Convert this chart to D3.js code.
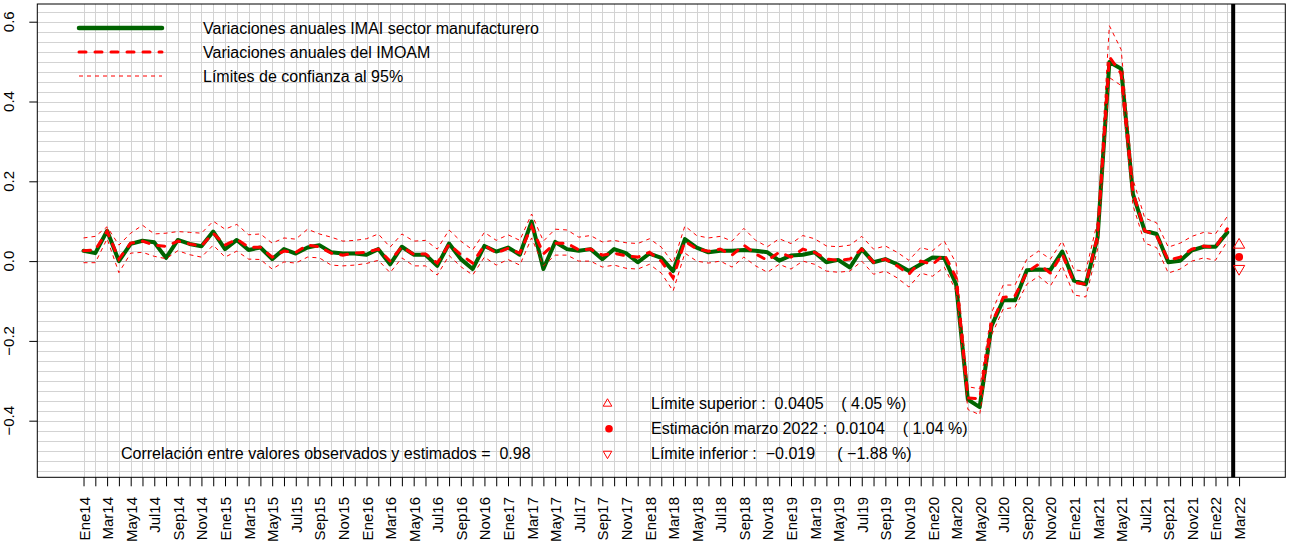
<!DOCTYPE html>
<html><head><meta charset="utf-8">
<script src="https://cdn.jsdelivr.net/npm/d3@7"></script>
<style>
body{margin:0;background:#fff;}
text{font-family:"Liberation Sans",Arial,sans-serif;fill:#000;}
</style></head>
<body>
<svg id="c" width="1291" height="547"></svg>
<script>
// ---- data ----
const tickLabels = ["Ene14","Mar14","May14","Jul14","Sep14","Nov14",
 "Ene15","Mar15","May15","Jul15","Sep15","Nov15",
 "Ene16","Mar16","May16","Jul16","Sep16","Nov16",
 "Ene17","Mar17","May17","Jul17","Sep17","Nov17",
 "Ene18","Mar18","May18","Jul18","Sep18","Nov18",
 "Ene19","Mar19","May19","Jul19","Sep19","Nov19",
 "Ene20","Mar20","May20","Jul20","Sep20","Nov20",
 "Ene21","Mar21","May21","Jul21","Sep21","Nov21",
 "Ene22","Mar22"];
const yTicks = [-0.4,-0.2,0.0,0.2,0.4,0.6];

// observed annual variation IMAI (Ene14 .. Feb22)
const observed = [
 0.026,0.020,0.076,0.000,0.043,0.051,0.047,0.008,0.053,0.043,
 0.037,0.074,0.030,0.053,0.028,0.034,0.005,0.030,0.019,0.034,
 0.040,0.022,0.019,0.019,0.016,0.030,-0.008,0.036,0.016,0.016,
 -0.012,0.044,0.005,-0.020,0.038,0.024,0.034,0.016,0.099,-0.020,
 0.048,0.030,0.026,0.030,0.005,0.030,0.020,-0.003,0.019,0.008,
 -0.025,0.055,0.034,0.022,0.026,0.026,0.028,0.026,0.022,0.001,
 0.014,0.016,0.022,-0.003,0.003,-0.016,0.030,-0.003,0.005,-0.008,
 -0.025,-0.008,0.009,0.008,-0.058,-0.347,-0.366,-0.163,-0.098,-0.098,
 -0.023,-0.021,-0.022,0.024,-0.049,-0.058,0.059,0.499,0.482,0.168,
 0.076,0.068,-0.003,0.001,0.027,0.036,0.036,0.072];

// estimated IMOAM
const estimated = [
 0.026,0.028,0.075,0.005,0.045,0.050,0.040,0.037,0.050,0.043,
 0.038,0.070,0.040,0.055,0.035,0.035,0.010,0.025,0.022,0.040,
 0.036,0.020,0.015,0.020,0.022,0.030,0.000,0.036,0.017,0.018,
 -0.005,0.042,0.016,-0.005,0.040,0.020,0.032,0.020,0.087,0.018,
 0.045,0.045,0.028,0.030,0.015,0.020,0.013,0.010,0.022,0.000,
 -0.042,0.050,0.030,0.025,0.030,0.015,0.040,0.018,0.002,0.022,
 0.010,0.030,0.022,0.005,0.002,0.005,0.030,-0.003,0.005,-0.012,
 -0.033,0.000,-0.008,0.017,-0.041,-0.343,-0.345,-0.158,-0.091,-0.087,
 -0.028,-0.008,-0.030,0.018,-0.054,-0.058,0.064,0.512,0.470,0.172,
 0.076,0.064,0.002,0.010,0.030,0.038,0.034,0.081];

const upper = [
 0.058,0.062,0.086,0.040,0.070,0.090,0.068,0.070,0.074,0.072,
 0.070,0.100,0.080,0.092,0.066,0.068,0.045,0.058,0.055,0.080,
 0.068,0.060,0.050,0.052,0.056,0.068,0.035,0.068,0.050,0.052,
 0.030,0.078,0.050,0.028,0.072,0.052,0.066,0.052,0.118,0.050,
 0.080,0.078,0.060,0.064,0.048,0.052,0.046,0.044,0.056,0.035,
 -0.005,0.088,0.064,0.058,0.062,0.050,0.082,0.052,0.036,0.056,
 0.044,0.064,0.056,0.038,0.036,0.040,0.062,0.030,0.038,0.022,
 0.002,0.034,0.026,0.050,-0.005,-0.315,-0.320,-0.130,-0.060,-0.060,
 0.005,0.025,0.005,0.050,-0.022,-0.025,0.100,0.590,0.530,0.205,
 0.108,0.096,0.035,0.045,0.062,0.072,0.068,0.112];

const lower = [
 -0.004,-0.004,0.056,-0.029,0.020,0.022,0.012,0.006,0.026,0.016,
 0.010,0.040,0.010,0.025,0.005,0.004,-0.020,-0.002,-0.005,0.010,
 0.008,-0.010,-0.012,-0.010,-0.006,0.002,-0.029,0.008,-0.012,-0.012,
 -0.035,0.014,-0.014,-0.035,0.010,-0.010,0.004,-0.010,0.058,-0.012,
 0.015,0.015,0.000,0.000,-0.015,-0.010,-0.018,-0.020,-0.008,-0.030,
 -0.075,0.020,0.000,-0.005,0.000,-0.015,0.010,-0.012,-0.028,-0.008,
 -0.020,0.000,-0.008,-0.025,-0.028,-0.025,0.000,-0.033,-0.025,-0.042,
 -0.065,-0.030,-0.038,-0.015,-0.075,-0.372,-0.385,-0.186,-0.120,-0.116,
 -0.058,-0.038,-0.062,-0.012,-0.085,-0.090,0.030,0.460,0.440,0.140,
 0.045,0.034,-0.030,-0.020,0.000,0.008,0.002,0.050];

// forecast for Mar22
const forecastIndex = 98;
const forecastValues = {sup:0.0405, est:0.0104, inf:-0.019};
const forecastTexts = [
 "Límite superior :  0.0405    ( 4.05 %)",
 "Estimación marzo 2022 :  0.0104    ( 1.04 %)",
 "Límite inferior :  −0.019     ( −1.88 %)"];
const correlationText = "Correlación entre valores observados y estimados =  0.98";
const legendTexts = ["Variaciones anuales IMAI sector manufacturero",
 "Variaciones anuales del IMOAM","Límites de confianza al 95%"];

// ---- layout ----
const svg = d3.select("#c");
const L=37.3, R=1285.3, T=4, B=477.3;
const nMonths = 99;
const x = d3.scaleLinear().domain([-3.92, nMonths-1+3.92]).range([L,R]);
const y = d3.scaleLinear().domain([-0.5419, 0.6444]).range([B,T]);

const GREEN="#006400", RED="#ff0000";

// grid
const g = svg.append("g");
const hGrid = d3.range(-21,26).map(k=>k*0.025);
g.selectAll(".hg").data(hGrid).join("line")
 .attr("x1",L).attr("x2",R)
 .attr("y1",d=>Math.round(y(d))+0.5).attr("y2",d=>Math.round(y(d))+0.5)
 .attr("stroke",d=>Math.abs(d)<1e-9?"#a9a9a9":"#d3d3d3").attr("stroke-width",1);
g.selectAll(".vg").data(d3.range(0,98)).join("line")
 .attr("x1",d=>Math.round(x(d))+0.5).attr("x2",d=>Math.round(x(d))+0.5)
 .attr("y1",T).attr("y2",B)
 .attr("stroke","#d3d3d3").attr("stroke-width",1);

// series
const line = arr => d3.line().x((d,i)=>x(i)).y(d=>y(d))(arr);
svg.append("path").attr("d",line(observed)).attr("fill","none")
 .attr("stroke",GREEN).attr("stroke-width",4).attr("stroke-linejoin","round").attr("stroke-linecap","round");
svg.append("path").attr("d",line(estimated)).attr("fill","none")
 .attr("stroke",RED).attr("stroke-width",3).attr("stroke-dasharray","7,9").attr("stroke-linecap","round");
[upper,lower].forEach(a=>{
 svg.append("path").attr("d",line(a)).attr("fill","none")
  .attr("stroke",RED).attr("stroke-width",1).attr("stroke-dasharray","4,4");
});

// vertical thick line
svg.append("line").attr("x1",x(97.5)).attr("x2",x(97.5)).attr("y1",T).attr("y2",B)
 .attr("stroke","#000").attr("stroke-width",4);

// forecast markers
const tri = d3.symbol().type(d3.symbolTriangle).size(55);
svg.append("path").attr("d",tri()).attr("transform",`translate(${x(forecastIndex)},${y(forecastValues.sup)})`)
 .attr("fill","none").attr("stroke",RED).attr("stroke-width",1);
svg.append("circle").attr("cx",x(forecastIndex)).attr("cy",y(forecastValues.est)).attr("r",4).attr("fill",RED);
svg.append("path").attr("d",tri()).attr("transform",`translate(${x(forecastIndex)},${y(forecastValues.inf)}) rotate(180)`)
 .attr("fill","none").attr("stroke",RED).attr("stroke-width",1);

// box
svg.append("rect").attr("x",L).attr("y",T).attr("width",R-L).attr("height",B-T)
 .attr("fill","none").attr("stroke","#000").attr("stroke-width",1);

// axes
const xa = svg.append("g").attr("transform",`translate(0,${B})`)
 .call(d3.axisBottom(x).tickValues(d3.range(nMonths)).tickSize(9).tickFormat(""));
xa.select(".domain").remove();
xa.selectAll("line").attr("stroke","#000");
svg.selectAll(".xl").data(tickLabels).join("text")
 .attr("transform",(d,i)=>`translate(${x(i*2)+6},497) rotate(-90)`)
 .attr("text-anchor","end").attr("font-size",15).text(d=>d);

const ya = svg.append("g").attr("transform",`translate(${L},0)`)
 .call(d3.axisLeft(y).tickValues(yTicks).tickSize(8).tickFormat(""));
ya.select(".domain").remove();
ya.selectAll("line").attr("stroke","#000");
svg.selectAll(".yl").data(yTicks).join("text")
 .attr("transform",d=>`translate(14,${y(d)}) rotate(-90)`)
 .attr("text-anchor","middle").attr("font-size",15).text(d=>d3.format(".1f")(d));

// legend
const lg = svg.append("g");
const ly=[28,52,76];
lg.append("line").attr("x1",79).attr("x2",162).attr("y1",ly[0]).attr("y2",ly[0])
 .attr("stroke",GREEN).attr("stroke-width",4.5).attr("stroke-linecap","round");
lg.append("line").attr("x1",79).attr("x2",162).attr("y1",ly[1]).attr("y2",ly[1])
 .attr("stroke",RED).attr("stroke-width",3).attr("stroke-dasharray","7,9").attr("stroke-linecap","round");
lg.append("line").attr("x1",79).attr("x2",162).attr("y1",ly[2]).attr("y2",ly[2])
 .attr("stroke",RED).attr("stroke-width",1).attr("stroke-dasharray","4,4");
lg.selectAll("text").data(legendTexts).join("text")
 .attr("x",203).attr("y",(d,i)=>ly[i]+6).attr("font-size",16).text(d=>d);

// annotation
const ay=[408.7,433.7,458.7];
svg.append("path").attr("d",d3.symbol().type(d3.symbolTriangle).size(32)()).attr("transform",`translate(607.5,${ay[0]-5})`)
 .attr("fill","none").attr("stroke",RED);
svg.append("circle").attr("cx",609).attr("cy",ay[1]-5).attr("r",3.8).attr("fill",RED);
svg.append("path").attr("d",d3.symbol().type(d3.symbolTriangle).size(32)()).attr("transform",`translate(607.5,${ay[2]-5}) rotate(180)`)
 .attr("fill","none").attr("stroke",RED);
svg.selectAll(".at").data(forecastTexts).join("text")
 .attr("x",651).attr("y",(d,i)=>ay[i]).attr("font-size",16).style("white-space","pre").attr("xml:space","preserve").text(d=>d);
svg.append("text").attr("x",121).attr("y",459).attr("font-size",16).style("white-space","pre").text(correlationText);
</script>
</body></html>
